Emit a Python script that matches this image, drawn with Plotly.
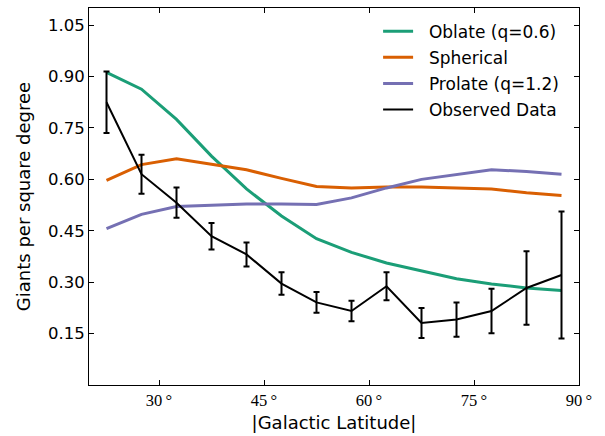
import plotly.graph_objects as go

lat = [22.5, 27.5, 32.5, 37.5, 42.5, 47.5, 52.5, 57.5, 62.5, 67.5, 72.5, 77.5, 82.5, 87.5]
oblate = [0.912, 0.863, 0.775, 0.668, 0.572, 0.493, 0.427, 0.387, 0.356, 0.332, 0.31, 0.295, 0.283, 0.276]
spherical = [0.597, 0.643, 0.66, 0.644, 0.628, 0.603, 0.579, 0.575, 0.578, 0.578, 0.575, 0.572, 0.561, 0.553]
prolate = [0.456, 0.498, 0.521, 0.525, 0.528, 0.528, 0.527, 0.546, 0.575, 0.6, 0.614, 0.628, 0.623, 0.615]
observed = [0.825, 0.615, 0.532, 0.434, 0.381, 0.296, 0.241, 0.216, 0.288, 0.181, 0.191, 0.216, 0.283, 0.321]
obs_err = [0.09, 0.057, 0.044, 0.039, 0.035, 0.033, 0.03, 0.03, 0.041, 0.044, 0.05, 0.065, 0.107, 0.185]

x_ticks = [30, 45, 60, 75, 90]
x_ticktext = ["30\u2009°", "45\u2009°", "60\u2009°", "75\u2009°", "90\u2009°"]
y_ticks = [0.15, 0.30, 0.45, 0.60, 0.75, 0.90, 1.05]

pad = "\u00a0\u00a0"

fig = go.Figure()
fig.add_trace(go.Scatter(x=lat, y=oblate, mode="lines", name=pad + "Oblate (q=0.6)",
                         line=dict(color="#1b9e77", width=3), legendgroup="a"))
fig.add_trace(go.Scatter(x=lat, y=spherical, mode="lines", name=pad + "Spherical",
                         line=dict(color="#d95f02", width=3), legendgroup="b"))
fig.add_trace(go.Scatter(x=lat, y=prolate, mode="lines", name=pad + "Prolate (q=1.2)",
                         line=dict(color="#7570b3", width=3), legendgroup="c"))
fig.add_trace(go.Scatter(x=lat, y=observed, mode="lines", name=pad + "Observed Data",
                         line=dict(color="black", width=2), legendgroup="d",
                         error_y=dict(type="data", array=obs_err, visible=True,
                                      color="black", thickness=2, width=3)))

fig.update_layout(
    width=605, height=436,
    margin=dict(l=89, r=26, t=7, b=48),
    paper_bgcolor="white", plot_bgcolor="white",
    font=dict(family="DejaVu Sans", size=16, color="black"),
    showlegend=True,
    legend=dict(x=0.59, y=0.985, xanchor="left", yanchor="top",
                bgcolor="rgba(0,0,0,0)", borderwidth=0,
                font=dict(family="DejaVu Sans", size=17),
                tracegroupgap=1, itemwidth=30),
    xaxis=dict(range=[20, 90], tickvals=x_ticks, ticktext=x_ticktext,
               tickfont=dict(family="Liberation Serif", size=16.5),
               showgrid=False, zeroline=False, showline=True, linecolor="black",
               linewidth=1, mirror="ticks", ticks="inside", ticklen=5,
               tickcolor="black",
               title=dict(text="|Galactic Latitude|", font=dict(family="DejaVu Sans", size=18),
                          standoff=7)),
    yaxis=dict(range=[0, 1.1], tickvals=y_ticks, tickformat=".2f",
               tickfont=dict(family="DejaVu Sans", size=16.5),
               showgrid=False, zeroline=False, showline=True, linecolor="black",
               linewidth=1, mirror="ticks", ticks="inside", ticklen=5,
               tickcolor="black",
               title=dict(text="Giants per square degree", font=dict(family="DejaVu Sans", size=18),
                          standoff=12)),
)

fig.write_html("out.html")
